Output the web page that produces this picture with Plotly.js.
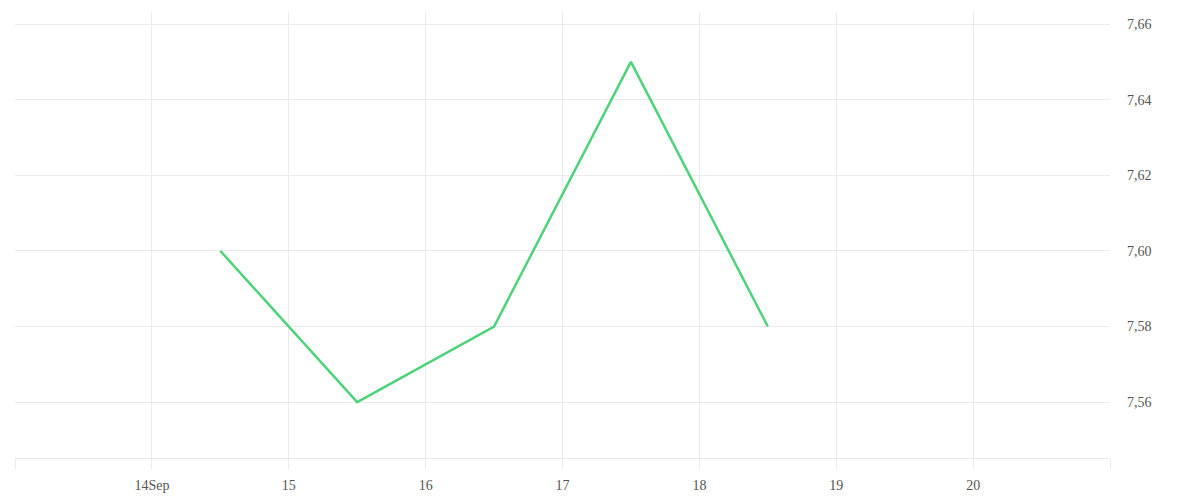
<!DOCTYPE html>
<html>
<head>
<meta charset="utf-8">
<script src="https://cdn.plot.ly/plotly-3.0.1.min.js"></script>
<style>
  html, body { margin: 0; padding: 0; background: #fff; }
  #grafico { width: 1200px; height: 500px; }
</style>
</head>
<body>
<div id="grafico"></div>
<script>
/* =========================================
   DADOS
========================================= */

let datas = ["2020-09-14 12:00", "2020-09-15 12:00", "2020-09-16 12:00", "2020-09-17 12:00", "2020-09-18 12:00"];
let valores = [7.60, 7.56, 7.58, 7.65, 7.58];

let diasEixo = ["2020-09-13", "2020-09-14", "2020-09-15", "2020-09-16", "2020-09-17", "2020-09-18", "2020-09-19", "2020-09-20", "2020-09-21"];
let rotulosEixo = ["", "14Sep", "15", "16", "17", "18", "19", "20", ""];

/* =========================================
   GRÁFICO
========================================= */

let trace1 = {
    x: datas,
    y: valores,
    mode: "lines",
    line: { color: "#4fd37a", width: 2.5 },
    hoverinfo: "x+y"
};

let fonte = { family: "Liberation Serif, Times New Roman, serif", size: 14, color: "#555555" };

let layout = {
    width: 1200,
    height: 500,
    margin: { t: 12, l: 15, r: 90, b: 42 },
    paper_bgcolor: "#ffffff",
    plot_bgcolor: "#ffffff",
    showlegend: false,
    separators: ",.",

    xaxis: {
        type: "date",
        range: ["2020-09-13", "2020-09-21"],
        tickmode: "array",
        tickvals: diasEixo,
        ticktext: rotulosEixo,
        ticks: "outside",
        ticklen: 10,
        tickcolor: "#ebebeb",
        showgrid: true,
        gridcolor: "#ebebeb",
        showline: true,
        linecolor: "#ebebeb",
        zeroline: false,
        tickfont: fonte,
        ticklabelstandoff: 4
    },

    yaxis: {
        side: "right",
        range: [7.5452, 7.6632],
        tickmode: "array",
        tickvals: [7.56, 7.58, 7.60, 7.62, 7.64, 7.66],
        tickformat: ".2f",
        showgrid: true,
        gridcolor: "#ebebeb",
        zeroline: false,
        showline: false,
        ticks: "",
        tickfont: fonte,
        ticklabelstandoff: 16
    }
};

Plotly.newPlot("grafico", [trace1], layout, { displayModeBar: false });
</script>
</body>
</html>
